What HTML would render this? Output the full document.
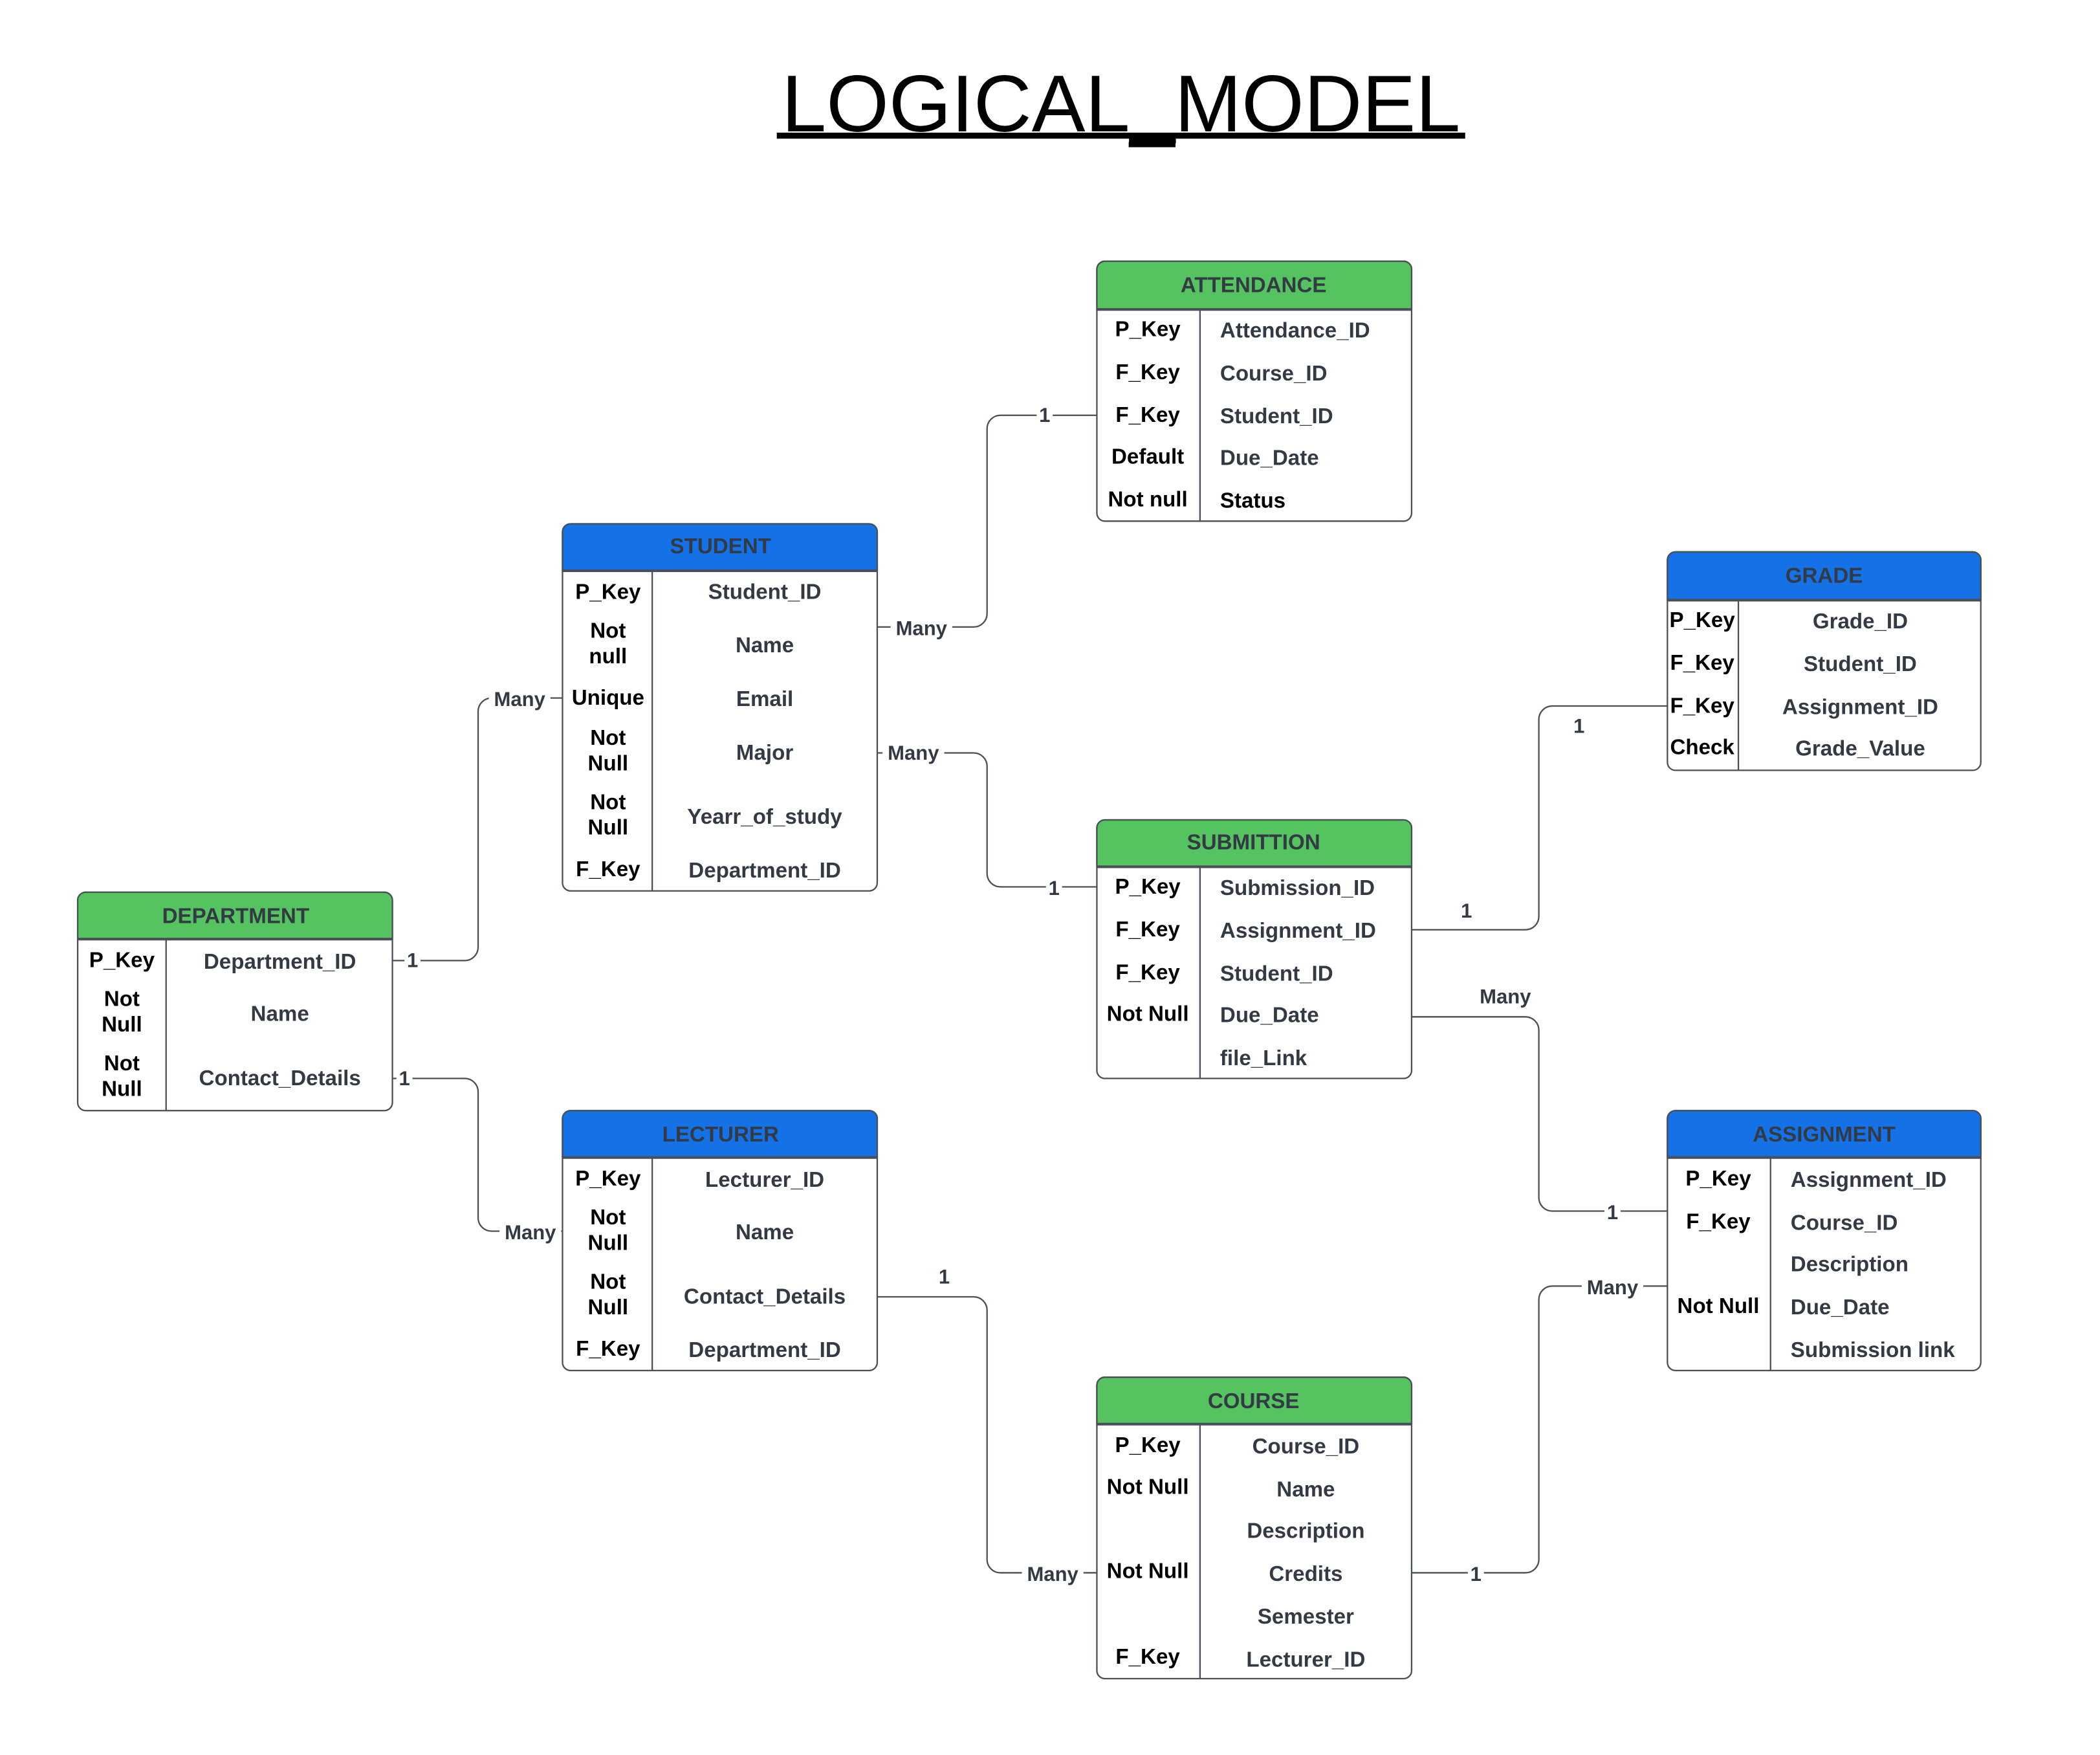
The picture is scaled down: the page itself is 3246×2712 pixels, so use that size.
<!DOCTYPE html>
<html><head><meta charset="utf-8"><style>
html,body{margin:0;padding:0;background:#fff;}
svg{display:block;}
text{font-family:"Liberation Sans",Arial,sans-serif;}
.k{font-weight:bold;font-size:16px;fill:#000;text-anchor:middle;}
.v{font-weight:bold;font-size:16px;fill:#333a44;}
.c{text-anchor:middle;}
.h{font-size:16px;fill:#333a44;text-anchor:middle;}
.l{font-weight:bold;font-size:15px;fill:#333a44;text-anchor:middle;}
.ln{fill:none;stroke:#4a4f57;stroke-width:1.1;}
.bx{fill:#fff;stroke:#4a4f57;stroke-width:1.1;}
</style></head><body>
<svg width="3246" height="2712" viewBox="0 0 1568 1310" preserveAspectRatio="none" xmlns="http://www.w3.org/2000/svg">
<text x="837" y="98" style="font-size:60px;fill:#000" text-anchor="middle">LOGICAL_MODEL</text>
<rect x="580" y="99" width="514" height="4.5" fill="#000"/>
<rect x="843" y="103" width="35" height="4" fill="#000"/>

<!-- connectors -->
<path class="ln" d="M655 468 H727 a10 10 0 0 0 10 -10 V320 a10 10 0 0 1 10 -10 H819"/>
<path class="ln" d="M655 562 H727 a10 10 0 0 1 10 10 V652 a10 10 0 0 0 10 10 H819"/>
<path class="ln" d="M293 717 H347 a10 10 0 0 0 10 -10 V531 a10 10 0 0 1 10 -10 H420"/>
<path class="ln" d="M293 805 H347 a10 10 0 0 1 10 10 V909 a10 10 0 0 0 10 10 H420"/>
<path class="ln" d="M655 968 H727 a10 10 0 0 1 10 10 V1164 a10 10 0 0 0 10 10 H819"/>
<path class="ln" d="M1054 1174 H1139 a10 10 0 0 0 10 -10 V970 a10 10 0 0 1 10 -10 H1245"/>
<path class="ln" d="M1054 694 H1139 a10 10 0 0 0 10 -10 V537 a10 10 0 0 1 10 -10 H1245"/>
<path class="ln" d="M1054 759 H1139 a10 10 0 0 1 10 10 V894 a10 10 0 0 0 10 10 H1245"/>

<g>
<rect x="665" y="459" width="46" height="18" fill="#fff"/><text class="l" x="688" y="474">Many</text>
<rect x="774" y="300" width="12" height="18" fill="#fff"/><text class="l" x="780" y="315">1</text>
<rect x="659" y="553" width="46" height="18" fill="#fff"/><text class="l" x="682" y="567">Many</text>
<rect x="781" y="653" width="12" height="18" fill="#fff"/><text class="l" x="787" y="668">1</text>
<rect x="302" y="708" width="12" height="18" fill="#fff"/><text class="l" x="308" y="722">1</text>
<rect x="365" y="512" width="46" height="18" fill="#fff"/><text class="l" x="388" y="527">Many</text>
<rect x="296" y="796" width="12" height="18" fill="#fff"/><text class="l" x="302" y="810">1</text>
<rect x="373" y="910" width="46" height="18" fill="#fff"/><text class="l" x="396" y="925">Many</text>
<text class="l" x="705" y="958">1</text>
<rect x="763" y="1165" width="46" height="18" fill="#fff"/><text class="l" x="786" y="1180">Many</text>
<rect x="1096" y="1165" width="12" height="18" fill="#fff"/><text class="l" x="1102" y="1180">1</text>
<rect x="1181" y="951" width="46" height="18" fill="#fff"/><text class="l" x="1204" y="966">Many</text>
<text class="l" x="1095" y="685">1</text>
<text class="l" x="1179" y="547">1</text>
<text class="l" x="1124" y="749">Many</text>
<rect x="1198" y="895" width="12" height="18" fill="#fff"/><text class="l" x="1204" y="910">1</text>
</g>

<!-- ATTENDANCE -->
<g>
<rect class="bx" x="819" y="195" width="235" height="194" rx="6"/>
<path d="M819 231 V201 a6 6 0 0 1 6 -6 H1048 a6 6 0 0 1 6 6 V231 Z" fill="#55c35f" stroke="#4a4f57" stroke-width="1.1"/>
<line class="ln" x1="819" y1="231" x2="1054" y2="231" style="stroke-width:2"/>
<line class="ln" x1="896" y1="231" x2="896" y2="389"/>
<text class="h" x="936" y="218" font-weight="bold">ATTENDANCE</text>
<text class="k" x="857" y="251">P_Key</text><text class="v" x="911" y="252">Attendance_ID</text>
<text class="k" x="857" y="283">F_Key</text><text class="v" x="911" y="284">Course_ID</text>
<text class="k" x="857" y="315">F_Key</text><text class="v" x="911" y="316">Student_ID</text>
<text class="k" x="857" y="346">Default</text><text class="v" x="911" y="347">Due_Date</text>
<text class="k" x="857" y="378">Not null</text><text class="v" x="911" y="379" style="fill:#000">Status</text>
</g>

<!-- STUDENT -->
<g>
<rect class="bx" x="420" y="391" width="235" height="274" rx="6"/>
<path d="M420 426 V397 a6 6 0 0 1 6 -6 H649 a6 6 0 0 1 6 6 V426 Z" fill="#1572e6" stroke="#4a4f57" stroke-width="1.1"/>
<line class="ln" x1="420" y1="426" x2="655" y2="426" style="stroke-width:2"/>
<line class="ln" x1="487" y1="426" x2="487" y2="665"/>
<text class="h" x="538" y="413" font-weight="bold">STUDENT</text>
<text class="k" x="454" y="447">P_Key</text><text class="v c" x="571" y="447">Student_ID</text>
<text class="k" x="454" y="476">Not</text><text class="k" x="454" y="495">null</text><text class="v c" x="571" y="487">Name</text>
<text class="k" x="454" y="526">Unique</text><text class="v c" x="571" y="527">Email</text>
<text class="k" x="454" y="556">Not</text><text class="k" x="454" y="575">Null</text><text class="v c" x="571" y="567">Major</text>
<text class="k" x="454" y="604">Not</text><text class="k" x="454" y="623">Null</text><text class="v c" x="571" y="615">Yearr_of_study</text>
<text class="k" x="454" y="654">F_Key</text><text class="v c" x="571" y="655">Department_ID</text>
</g>

<!-- GRADE -->
<g>
<rect class="bx" x="1245" y="412" width="234" height="163" rx="6"/>
<path d="M1245 448 V418 a6 6 0 0 1 6 -6 H1473 a6 6 0 0 1 6 6 V448 Z" fill="#1572e6" stroke="#4a4f57" stroke-width="1.1"/>
<line class="ln" x1="1245" y1="448" x2="1479" y2="448" style="stroke-width:2"/>
<line class="ln" x1="1298" y1="448" x2="1298" y2="575"/>
<text class="h" x="1362" y="435" font-weight="bold">GRADE</text>
<text class="k" x="1271" y="468">P_Key</text><text class="v c" x="1389" y="469">Grade_ID</text>
<text class="k" x="1271" y="500">F_Key</text><text class="v c" x="1389" y="501">Student_ID</text>
<text class="k" x="1271" y="532">F_Key</text><text class="v c" x="1389" y="533">Assignment_ID</text>
<text class="k" x="1271" y="563">Check</text><text class="v c" x="1389" y="564">Grade_Value</text>
</g>

<!-- SUBMITTION -->
<g>
<rect class="bx" x="819" y="612" width="235" height="193" rx="6"/>
<path d="M819 647 V618 a6 6 0 0 1 6 -6 H1048 a6 6 0 0 1 6 6 V647 Z" fill="#55c35f" stroke="#4a4f57" stroke-width="1.1"/>
<line class="ln" x1="819" y1="647" x2="1054" y2="647" style="stroke-width:2"/>
<line class="ln" x1="896" y1="647" x2="896" y2="805"/>
<text class="h" x="936" y="634" font-weight="bold">SUBMITTION</text>
<text class="k" x="857" y="667">P_Key</text><text class="v" x="911" y="668">Submission_ID</text>
<text class="k" x="857" y="699">F_Key</text><text class="v" x="911" y="700">Assignment_ID</text>
<text class="k" x="857" y="731">F_Key</text><text class="v" x="911" y="732">Student_ID</text>
<text class="k" x="857" y="762">Not Null</text><text class="v" x="911" y="763">Due_Date</text>
<text class="v" x="911" y="795">file_Link</text>
</g>

<!-- DEPARTMENT -->
<g>
<rect class="bx" x="58" y="666" width="235" height="163" rx="6"/>
<path d="M58 701 V672 a6 6 0 0 1 6 -6 H287 a6 6 0 0 1 6 6 V701 Z" fill="#55c35f" stroke="#4a4f57" stroke-width="1.1"/>
<line class="ln" x1="58" y1="701" x2="293" y2="701" style="stroke-width:2"/>
<line class="ln" x1="124" y1="701" x2="124" y2="829"/>
<text class="h" x="176" y="689" font-weight="bold">DEPARTMENT</text>
<text class="k" x="91" y="722">P_Key</text><text class="v c" x="209" y="723">Department_ID</text>
<text class="k" x="91" y="751">Not</text><text class="k" x="91" y="770">Null</text><text class="v c" x="209" y="762">Name</text>
<text class="k" x="91" y="799">Not</text><text class="k" x="91" y="818">Null</text><text class="v c" x="209" y="810">Contact_Details</text>
</g>

<!-- LECTURER -->
<g>
<rect class="bx" x="420" y="829" width="235" height="194" rx="6"/>
<path d="M420 864 V835 a6 6 0 0 1 6 -6 H649 a6 6 0 0 1 6 6 V864 Z" fill="#1572e6" stroke="#4a4f57" stroke-width="1.1"/>
<line class="ln" x1="420" y1="864" x2="655" y2="864" style="stroke-width:2"/>
<line class="ln" x1="487" y1="864" x2="487" y2="1023"/>
<text class="h" x="538" y="852" font-weight="bold">LECTURER</text>
<text class="k" x="454" y="885">P_Key</text><text class="v c" x="571" y="886">Lecturer_ID</text>
<text class="k" x="454" y="914">Not</text><text class="k" x="454" y="933">Null</text><text class="v c" x="571" y="925">Name</text>
<text class="k" x="454" y="962">Not</text><text class="k" x="454" y="981">Null</text><text class="v c" x="571" y="973">Contact_Details</text>
<text class="k" x="454" y="1012">F_Key</text><text class="v c" x="571" y="1013">Department_ID</text>
</g>

<!-- ASSIGNMENT -->
<g>
<rect class="bx" x="1245" y="829" width="234" height="194" rx="6"/>
<path d="M1245 864 V835 a6 6 0 0 1 6 -6 H1473 a6 6 0 0 1 6 6 V864 Z" fill="#1572e6" stroke="#4a4f57" stroke-width="1.1"/>
<line class="ln" x1="1245" y1="864" x2="1479" y2="864" style="stroke-width:2"/>
<line class="ln" x1="1322" y1="864" x2="1322" y2="1023"/>
<text class="h" x="1362" y="852" font-weight="bold">ASSIGNMENT</text>
<text class="k" x="1283" y="885">P_Key</text><text class="v" x="1337" y="886">Assignment_ID</text>
<text class="k" x="1283" y="917">F_Key</text><text class="v" x="1337" y="918">Course_ID</text>
<text class="v" x="1337" y="949">Description</text>
<text class="k" x="1283" y="980">Not Null</text><text class="v" x="1337" y="981">Due_Date</text>
<text class="v" x="1337" y="1013">Submission link</text>
</g>

<!-- COURSE -->
<g>
<rect class="bx" x="819" y="1028" width="235" height="225" rx="6"/>
<path d="M819 1063 V1034 a6 6 0 0 1 6 -6 H1048 a6 6 0 0 1 6 6 V1063 Z" fill="#55c35f" stroke="#4a4f57" stroke-width="1.1"/>
<line class="ln" x1="819" y1="1063" x2="1054" y2="1063" style="stroke-width:2"/>
<line class="ln" x1="896" y1="1063" x2="896" y2="1253"/>
<text class="h" x="936" y="1051" font-weight="bold">COURSE</text>
<text class="k" x="857" y="1084">P_Key</text><text class="v c" x="975" y="1085">Course_ID</text>
<text class="k" x="857" y="1115">Not Null</text><text class="v c" x="975" y="1117">Name</text>
<text class="v c" x="975" y="1148">Description</text>
<text class="k" x="857" y="1178">Not Null</text><text class="v c" x="975" y="1180">Credits</text>
<text class="v c" x="975" y="1212">Semester</text>
<text class="k" x="857" y="1242">F_Key</text><text class="v c" x="975" y="1244">Lecturer_ID</text>
</g>
</svg>
</body></html>
